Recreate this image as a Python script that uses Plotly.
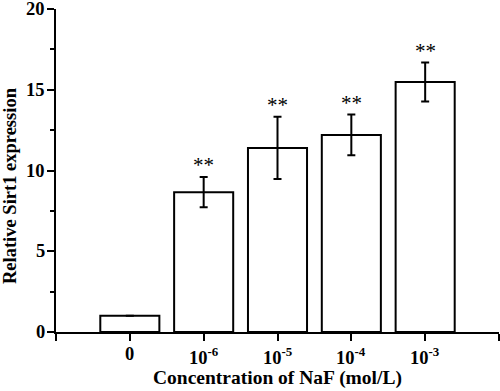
import plotly.graph_objects as go

categories = ["0", "10<sup>-6</sup>", "10<sup>-5</sup>", "10<sup>-4</sup>", "10<sup>-3</sup>"]
values = [1.0, 8.66, 11.4, 12.2, 15.48]
errors = [0.0, 0.93, 1.93, 1.26, 1.2]
sig_marks = ["", "**", "**", "**", "**"]
y_ticks = [0, 5, 10, 15, 20]

positions = list(range(len(categories)))
font = "Liberation Serif"

W, H = 500, 391
L, R, T, B = 56, 1, 9, 59

fig = go.Figure()
fig.add_trace(go.Bar(
    x=positions, y=values, width=0.8,
    marker=dict(color="white", line=dict(color="black", width=2)),
    error_y=dict(type="data", array=errors, visible=True, color="black",
                 thickness=2, width=4),
    showlegend=False,
))

for p, v, e, s in zip(positions, values, errors, sig_marks):
    if s:
        fig.add_annotation(x=p, y=v + e, text=s, showarrow=False,
                           yanchor="bottom", yshift=-2,
                           font=dict(family=font, size=21, color="black"))

# tick labels drawn as annotations (positioned by the axes)
for p, c in zip(positions, categories):
    fig.add_annotation(x=p, xref="x", y=0, yref="paper", text="<b>" + c + "</b>",
                       showarrow=False, xanchor="center", yanchor="top",
                       yshift=-10,
                       font=dict(family=font, size=18.5, color="black"))
for t in y_ticks:
    fig.add_annotation(x=0, xref="paper", y=t, yref="y", text="<b>%d</b>" % t,
                       showarrow=False, xanchor="right", yanchor="middle",
                       xshift=-9,
                       font=dict(family=font, size=18.5, color="black"))

# axis titles as paper annotations
fig.add_annotation(xref="paper", yref="paper",
                   x=0.5, y=(H - 378 - B) / (H - T - B),
                   text="<b>Concentration of NaF (mol/L)</b>", showarrow=False,
                   xanchor="center", yanchor="middle",
                   font=dict(family=font, size=19.5, color="black"))
fig.add_annotation(xref="paper", yref="paper",
                   x=(10 - L) / (W - L - R), y=(H - 186 - B) / (H - T - B),
                   text="<b>Relative Sirt1 expression</b>", showarrow=False,
                   textangle=-90, xanchor="center", yanchor="middle",
                   font=dict(family=font, size=18.5, color="black"))

fig.update_layout(
    width=W, height=H,
    margin=dict(l=L, r=R, t=T, b=B, autoexpand=False),
    plot_bgcolor="white", paper_bgcolor="white",
    font=dict(family=font, color="black", size=18),
)
fig.update_xaxes(
    range=[-1, 5], tickmode="array",
    tickvals=[-1] + positions + [5],
    showticklabels=False,
    showline=True, linecolor="black", linewidth=2,
    ticks="outside", ticklen=7, tickwidth=2, tickcolor="black",
    showgrid=False, zeroline=False, automargin=False,
)
fig.update_yaxes(
    range=[0, 20], tickmode="array", tickvals=y_ticks,
    showticklabels=False,
    showline=True, linecolor="black", linewidth=2,
    ticks="outside", ticklen=7, tickwidth=2, tickcolor="black",
    minor=dict(tickvals=[2.5, 7.5, 12.5, 17.5], ticks="outside", ticklen=4,
               tickwidth=2, tickcolor="black"),
    showgrid=False, zeroline=False, automargin=False,
)

fig.write_html("out.html", config={"displayModeBar": False},
               post_script="document.body.style.margin='0';")
